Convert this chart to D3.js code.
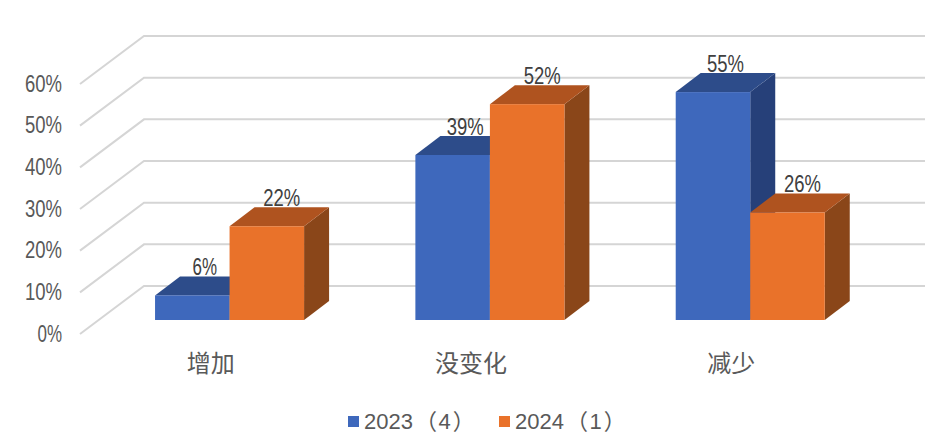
<!DOCTYPE html>
<html><head><meta charset="utf-8">
<script src="https://cdn.jsdelivr.net/npm/d3@7"></script>
<style>html,body{margin:0;padding:0;background:#fff}svg{display:block}</style></head>
<body><svg id="c" width="950" height="448"></svg>
<script>
const categories = ["增加", "没变化", "减少"];
const seriesNames = ["2023（4）", "2024（1）"];
const values2023 = [5.9, 39.6, 54.7];
const values2024 = [22.5, 51.8, 25.8];
const labels2023 = ["6%", "39%", "55%"];
const labels2024 = ["22%", "52%", "26%"];
const yTicks = [0, 10, 20, 30, 40, 50, 60];
const colors = [
  {front:"#3E68BC", top:"#2D4C8A", side:"#264079"},
  {front:"#E9722A", top:"#AF531F", side:"#8A4619"}
];

const svg = d3.select("#c");
const y = d3.scaleLinear().domain([0,60]).range([334,84]);
const x0 = d3.scaleBand().domain(categories).range([80,861]).paddingInner(0.4275).paddingOuter(0.21375);
const x1 = d3.scaleBand().domain([0,1]).range([0,x0.bandwidth()]);
const backDx = 64, backDy = -48, barDx = 25, barDy = -19, floorDx = 19.4, floorDy = -14;
const numFont = "'Liberation Sans'";
const cjk = "'Noto Sans CJK SC'";
const pctLen = s => s.length === 2 ? 24.5 : 37;
const labelShift = [0, 2.5];

// grid
svg.append("g").selectAll("path").data(yTicks).join("path")
  .attr("fill","none").attr("stroke","#D5D5D5").attr("stroke-width",2)
  .attr("d", d => `M80,${y(d)}L${80+backDx},${y(d)+backDy}L${861+backDx},${y(d)+backDy}`);

// y axis
const ax = svg.append("g").attr("transform","translate(62,0)")
  .call(d3.axisLeft(y).tickValues(yTicks).tickFormat(d=>d+"%").tickSize(0).tickPadding(0));
ax.select(".domain").remove();
ax.selectAll("text").attr("dy",7).attr("fill","#595959")
  .attr("font-family",numFont).attr("font-size",23)
  .attr("textLength",d=>pctLen(d+"%")).attr("lengthAdjust","spacingAndGlyphs");

// bars
const bars = [];
categories.forEach((c,i)=>{
  bars.push({c, s:0, v:values2023[i], lab:labels2023[i]});
  bars.push({c, s:1, v:values2024[i], lab:labels2024[i]});
});
const base = y(0)+floorDy;
const h = v => y(0)-y(v);
const bg = svg.append("g").selectAll("g").data(bars).join("g")
  .attr("transform", d=>`translate(${x0(d.c)+x1(d.s)+floorDx},${base})`);
const w = x1.bandwidth();
bg.append("path").attr("fill",d=>colors[d.s].side).attr("d",d=>`M${w},0L${w+barDx},${barDy}L${w+barDx},${barDy-h(d.v)}L${w},${-h(d.v)}Z`);
bg.append("path").attr("fill",d=>colors[d.s].top).attr("d",d=>`M0,${-h(d.v)}L${barDx},${barDy-h(d.v)}L${w+barDx},${barDy-h(d.v)}L${w},${-h(d.v)}Z`);
bg.append("rect").attr("fill",d=>colors[d.s].front).attr("x",0).attr("width",w).attr("y",d=>-h(d.v)).attr("height",d=>h(d.v));

// data labels
svg.append("g").selectAll("text").data(bars).join("text")
  .attr("text-anchor","middle").attr("fill","#404040")
  .attr("font-family",numFont).attr("font-size",23)
  .attr("textLength",d=>pctLen(d.lab)).attr("lengthAdjust","spacingAndGlyphs")
  .attr("x",d=>x0(d.c)+x1(d.s)+floorDx+w/2+barDx/2+labelShift[d.s])
  .attr("y",d=>base-h(d.v)+barDy-1.5)
  .text(d=>d.lab);

// categories
svg.append("g").selectAll("text").data(categories).join("text")
  .attr("text-anchor","middle").attr("fill","#595959").attr("font-family",cjk).attr("font-size",24)
  .attr("x",d=>x0(d)+x0.bandwidth()/2+0.5).attr("y",372).text(d=>d);

// legend
const legendX = [348,499];
const lg = svg.append("g").selectAll("g").data(seriesNames).join("g")
  .attr("transform",(d,i)=>`translate(${legendX[i]},416)`);
lg.append("rect").attr("width",11).attr("height",11).attr("fill",(d,i)=>colors[i].front);
const lt = lg.append("text").attr("x",16).attr("y",13).attr("fill","#595959")
  .attr("font-family",`${numFont},${cjk}`).attr("font-size",22);
lt.each(function(d){
  const m = d.match(/^(\d+)（(\d)）$/), t = d3.select(this);
  t.append("tspan").text(m[1]);
  t.append("tspan").attr("dx",2).text("（");
  t.append("tspan").attr("dx",1.5).text(m[2]);
  t.append("tspan").attr("dx",2).text("）");
});
</script></body></html>
